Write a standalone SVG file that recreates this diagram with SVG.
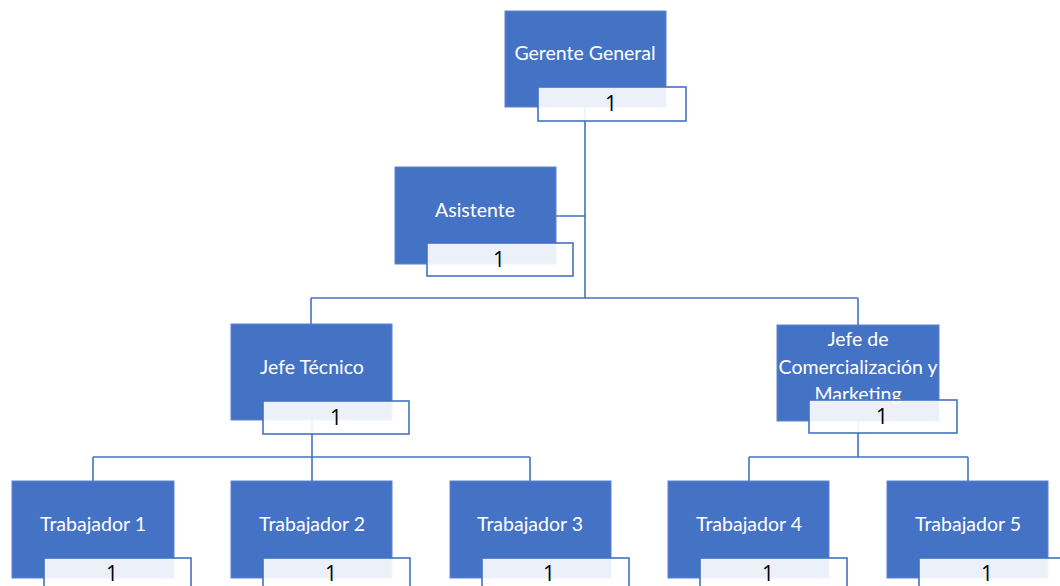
<svg xmlns="http://www.w3.org/2000/svg" width="1060" height="586" viewBox="0 0 1060 586">
<style>
.box{fill:#4472C4;stroke:#5B84CC;stroke-width:1}
.lbl{fill:#FFFFFF;fill-opacity:0.9;stroke:#4472C4;stroke-width:1.6}
.t{font-family:Lato,"Open Sans","Liberation Sans",sans-serif;font-size:19.5px;fill:#FFFFFF;text-anchor:middle;dominant-baseline:central}
.n{font-family:"Open Sans","Liberation Sans",sans-serif;font-size:21px;fill:#000000;text-anchor:middle;dominant-baseline:central}
.c{fill:none;stroke:#4472C4;stroke-width:1.6}
</style>
<rect width="1060" height="586" fill="#FFFFFF"/>
<g id="connectors">
<path class="c" d="M585 104V298M556 216H585M311 298H858M311 298V324M858 298V325"/>
<path class="c" d="M312 420V457M93 457H530M93 457V481M312 457V481M530 457V481"/>
<path class="c" d="M858 421V457M749 457H968M749 457V481M968 457V481"/>
</g>
<g id="gerente">
<rect class="box" x="505" y="11" width="161" height="96"/>
<text class="t" x="585" y="52">Gerente General</text>
<rect class="lbl" x="538" y="87" width="148" height="34"/>
<text class="n" x="611" y="103">1</text>
</g>
<g id="asistente">
<rect class="box" x="395" y="167" width="161" height="97"/>
<text class="t" x="475" y="209">Asistente</text>
<rect class="lbl" x="427" y="243" width="146" height="33"/>
<text class="n" x="499" y="259">1</text>
</g>
<g id="jefe-tecnico">
<rect class="box" x="231" y="324" width="161" height="96"/>
<text class="t" x="312" y="366">Jefe Técnico</text>
<rect class="lbl" x="263" y="401" width="146" height="33"/>
<text class="n" x="336" y="417">1</text>
</g>
<g id="jefe-comercial">
<rect class="box" x="777" y="325" width="162" height="96"/>
<text class="t" x="858" y="338">Jefe de</text>
<text class="t" x="858" y="366">Comercialización y</text>
<text class="t" x="858" y="393">Marketing</text>
<rect class="lbl" x="809" y="400" width="148" height="33"/>
<text class="n" x="882" y="416">1</text>
</g>
<g id="trabajador-1">
<rect class="box" x="12" y="481" width="162" height="97"/>
<text class="t" x="93" y="523">Trabajador 1</text>
<rect class="lbl" x="44" y="558" width="147" height="34"/>
<text class="n" x="112" y="573">1</text>
</g>
<g id="trabajador-2">
<rect class="box" x="231" y="481" width="161" height="97"/>
<text class="t" x="312" y="523">Trabajador 2</text>
<rect class="lbl" x="263" y="558" width="147" height="34"/>
<text class="n" x="331" y="573">1</text>
</g>
<g id="trabajador-3">
<rect class="box" x="450" y="481" width="161" height="97"/>
<text class="t" x="530" y="523">Trabajador 3</text>
<rect class="lbl" x="482" y="558" width="147" height="34"/>
<text class="n" x="549" y="573">1</text>
</g>
<g id="trabajador-4">
<rect class="box" x="668" y="481" width="161" height="97"/>
<text class="t" x="749" y="523">Trabajador 4</text>
<rect class="lbl" x="700" y="558" width="147" height="34"/>
<text class="n" x="768" y="573">1</text>
</g>
<g id="trabajador-5">
<rect class="box" x="887" y="481" width="161" height="97"/>
<text class="t" x="968" y="523">Trabajador 5</text>
<rect class="lbl" x="919" y="558" width="147" height="34"/>
<text class="n" x="987" y="573">1</text>
</g>
</svg>
